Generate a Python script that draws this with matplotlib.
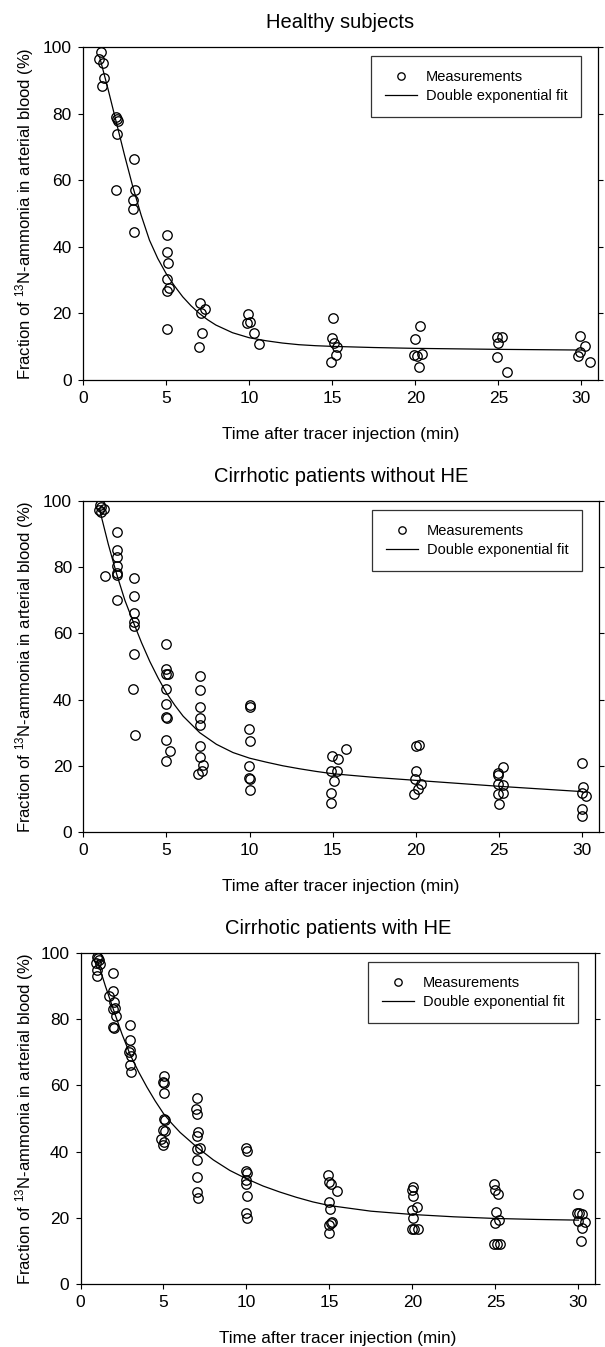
import matplotlib
matplotlib.use("Agg")
import matplotlib.pyplot as plt

plt.rcParams['font.family'] = ['Liberation Sans', 'DejaVu Sans']
plt.rcParams['mathtext.fontset'] = 'custom'
plt.rcParams['mathtext.rm'] = 'Liberation Sans'
plt.rcParams['mathtext.it'] = 'Liberation Sans:italic'
plt.rcParams['mathtext.bf'] = 'Liberation Sans:bold'

# ---------------- data ----------------
titles = ["Healthy subjects", "Cirrhotic patients without HE", "Cirrhotic patients with HE"]

# Healthy subjects
t_healthy = [1.08, 0.96, 1.18, 1.24, 1.14,
             1.97, 2.05, 2.10, 2.04, 2.00,
             3.05, 3.10, 2.98, 3.00, 3.08,
             5.03, 5.03, 5.09, 5.04, 5.20, 5.04, 5.04,
             7.05, 7.35, 7.10, 7.15, 7.00,
             9.95, 10.05, 9.90, 10.30, 10.60,
             15.07, 15.00, 15.10, 15.30, 15.20, 14.90,
             20.30, 20.00, 19.90, 20.10, 20.40, 20.20,
             24.90, 25.20, 25.00, 24.90, 25.50,
             29.90, 30.20, 29.90, 29.80, 30.50]
v_healthy = [98.5, 96.5, 95.3, 90.8, 88.3,
             79.0, 78.5, 77.8, 74.0, 57.0,
             66.5, 57.0, 54.0, 51.5, 44.5,
             43.5, 38.5, 35.0, 30.3, 27.5, 26.8, 15.2,
             23.2, 21.3, 20.1, 14.0, 9.8,
             19.8, 17.5, 17.2, 14.1, 10.8,
             18.5, 12.5, 11.2, 10.0, 7.5, 5.5,
             16.2, 12.3, 7.5, 7.3, 7.8, 4.0,
             13.0, 13.0, 11.0, 7.0, 2.5,
             13.2, 10.3, 8.3, 7.3, 5.5]
fit_t_healthy = [1, 1.5, 2, 2.5, 3, 3.5, 4, 4.5, 5, 5.5, 6, 6.5, 7, 7.5, 8, 9, 10,
                 11, 12, 13, 14, 15, 17.5, 20, 22.5, 25, 27.5, 30]
fit_v_healthy = [97, 87.5, 77.5, 67.5, 58, 49.5, 42, 36.5, 32, 28.3, 25, 22.3, 20,
                 18.1, 16.5, 14.2, 12.7, 11.8, 11.1, 10.6, 10.3, 10.1, 9.75, 9.5,
                 9.35, 9.2, 9.1, 9.0]

# Cirrhotic patients without HE
t_noHE = [1.00, 1.06, 0.96, 1.04, 1.22, 1.28,
          2.04, 2.00, 2.04, 2.04, 2.04, 2.04, 2.04,
          3.04, 3.04, 3.04, 3.04, 3.04, 3.04, 3.00, 3.08,
          5.00, 5.00, 4.96, 5.08, 5.00, 5.00, 5.00, 5.04, 5.00, 5.20, 5.00,
          7.00, 7.00, 7.00, 7.04, 7.00, 7.00, 7.00, 7.20, 7.16, 6.92,
          10.00, 10.04, 9.96, 10.04, 9.96, 9.96, 10.04, 10.00,
          14.94, 15.32, 15.80, 14.90, 15.26, 15.06, 14.90, 14.90,
          20.00, 20.20, 20.00, 19.96, 20.30, 20.10, 19.90,
          25.20, 24.95, 24.92, 24.90, 25.20, 24.92, 25.20, 24.96,
          30.00, 30.04, 30.00, 30.20, 29.96, 30.00]
v_noHE = [98.9, 98.2, 97.2, 96.7, 97.5, 77.2,
          90.5, 85.1, 83.1, 80.5, 78.3, 77.6, 70.2,
          76.7, 71.2, 66.2, 63.5, 62.2, 53.9, 43.2, 29.4,
          56.9, 49.1, 47.6, 47.6, 43.3, 38.8, 34.7, 34.4, 27.7, 24.4, 21.3,
          47.2, 42.8, 37.8, 34.4, 32.2, 26.0, 22.7, 20.3, 18.3, 17.4,
          38.3, 37.7, 31.1, 27.5, 19.8, 16.3, 16.1, 12.8,
          23.0, 22.0, 25.2, 18.4, 18.3, 15.4, 11.8, 8.8,
          26.0, 26.2, 18.3, 16.1, 14.6, 13.1, 11.4,
          19.6, 17.8, 17.1, 14.4, 14.1, 11.6, 11.8, 8.6,
          20.9, 13.6, 11.9, 10.8, 7.0, 4.7]
fit_t_noHE = [1, 1.5, 2, 2.5, 3, 3.5, 4, 4.5, 5, 5.5, 6, 7, 8, 9, 10, 11, 12, 13, 14, 15,
              17.5, 20, 22.5, 25, 27.5, 30]
fit_v_noHE = [97, 87, 78, 70, 63.5, 57.2, 51.5, 46.5, 42, 38.3, 35, 30, 26.5, 24, 22.3,
              21.1, 20, 19.1, 18.3, 17.6, 16.5, 15.6, 14.7, 13.8, 13.0, 12.2]

# Cirrhotic patients with HE
t_HE = [0.97, 1.06, 1.12, 0.95, 1.18, 1.00, 0.97,
        1.70, 1.98, 1.98, 2.02, 1.98, 2.08, 2.12, 1.98, 2.04,
        2.98, 2.98, 2.98, 2.94, 3.02, 2.98, 3.02,
        5.05, 4.99, 5.05, 5.03, 5.05, 5.09, 4.99, 5.09, 4.86, 5.03, 4.99,
        7.00, 6.94, 7.00, 7.06, 7.00, 7.20, 7.00, 7.00, 7.00, 7.00, 7.10,
        10.00, 10.06, 10.00, 10.06, 10.00, 10.00, 10.06, 10.00, 10.06,
        14.89, 14.99, 15.07, 15.43, 14.97, 15.03, 15.15, 15.07, 14.99, 14.99,
        20.03, 19.97, 20.03, 20.30, 19.97, 20.03, 19.97, 20.07, 20.34,
        24.90, 25.00, 25.14, 25.04, 25.20, 24.98, 24.90, 25.10, 25.30,
        30.00, 29.90, 30.06, 30.20, 30.40, 29.96, 30.20, 30.16]
v_HE = [98.8, 98.5, 98.0, 96.9, 96.8, 95.0, 93.0,
        86.9, 94.0, 88.4, 85.3, 83.2, 83.4, 81.0, 77.5, 77.4,
        78.2, 73.7, 70.6, 70.1, 68.9, 66.1, 64.0,
        62.8, 61.1, 60.6, 57.7, 50.0, 49.5, 46.5, 46.2, 43.7, 43.0, 42.0,
        56.3, 52.9, 51.5, 46.0, 44.7, 41.2, 40.9, 37.4, 32.2, 27.7, 26.1,
        41.1, 40.3, 34.1, 33.4, 31.4, 30.2, 26.7, 21.3, 19.8,
        32.9, 30.7, 30.2, 28.2, 24.7, 22.6, 18.8, 18.3, 17.8, 15.5,
        29.3, 28.4, 26.5, 23.3, 22.5, 19.8, 16.6, 16.5, 16.5,
        30.3, 28.3, 27.1, 21.8, 19.3, 18.3, 12.0, 12.0, 12.0,
        27.1, 21.6, 21.3, 21.1, 18.8, 19.1, 16.8, 13.0]
fit_t_HE = [1, 1.5, 2, 2.5, 3, 3.5, 4, 4.5, 5, 5.5, 6, 7, 8, 9, 10, 11, 12, 13, 14, 15,
            17.5, 20, 22.5, 25, 27.5, 30]
fit_v_HE = [98, 90, 82.7, 75.5, 69.2, 64.1, 59.5, 55.3, 51.5, 48.5, 45.8, 41.4, 37.5,
            34.3, 31.8, 29.6, 27.8, 26.2, 24.8, 23.7, 22.0, 21.0, 20.3, 19.8, 19.5, 19.3]

x_ticks = [0, 5, 10, 15, 20, 25, 30]
y_ticks = [0, 20, 40, 60, 80, 100]
xlabel = "Time after tracer injection (min)"
ylabel = r"Fraction of $^{\mathrm{13}}$N-ammonia in arterial blood (%)"
legend_labels = ["Measurements", "Double exponential fit"]

panels = [
    (t_healthy, v_healthy, fit_t_healthy, fit_v_healthy),
    (t_noHE, v_noHE, fit_t_noHE, fit_v_noHE),
    (t_HE, v_HE, fit_t_HE, fit_v_HE),
]

# ---------------- figure ----------------
W, H = 605, 1347
fig = plt.figure(figsize=(W / 100, H / 100), dpi=100)

# axes rectangles in pixels: left, top, right, bottom
rects_px = [(83, 47, 598, 380), (83.3, 501, 599, 832), (80.5, 953, 595, 1284)]

for (t, v, ft, fv), title, (l, tp, r, b) in zip(panels, titles, rects_px):
    ax = fig.add_axes([l / W, 1 - b / H, (r - l) / W, (b - tp) / H])
    ax.plot(t, v, linestyle='none', marker='o', markersize=6.8,
            markerfacecolor='none', markeredgecolor='black', markeredgewidth=0.95,
            label=legend_labels[0])
    ax.plot(ft, fv, color='black', linewidth=0.9, label=legend_labels[1])
    ax.set_xlim(0, 31)
    ax.set_ylim(0, 100)
    ax.set_xticks(x_ticks)
    ax.set_yticks(y_ticks)
    ax.tick_params(axis='both', direction='out', length=3.6, width=0.8,
                   labelsize=12.5, pad=4.5, colors='black')
    ax.tick_params(axis='y', right=True)
    for sp in ax.spines.values():
        sp.set_linewidth(0.9)
        sp.set_color('black')
    ax.set_title(title, fontsize=14.5, pad=14)
    ax.set_xlabel(xlabel, fontsize=12.3, va='center')
    ax.xaxis.set_label_coords(0.5, -55 / (b - tp))
    ax.set_ylabel(ylabel, fontsize=12.0, va='center')
    ax.yaxis.set_label_coords(-(l - 25) / (r - l), 0.5)
    leg = ax.legend(loc='upper right',
                    bbox_to_anchor=(1 - 17 / (r - l), 1 - 9 / (b - tp)),
                    borderaxespad=0, frameon=True, fancybox=False, fontsize=10.5,
                    handlelength=2.2, handletextpad=0.6, borderpad=0.95,
                    labelspacing=0.35, numpoints=1, markerscale=0.78)
    leg.get_frame().set_edgecolor('black')
    leg.get_frame().set_linewidth(0.9)

fig.savefig("out.png", dpi=100)
